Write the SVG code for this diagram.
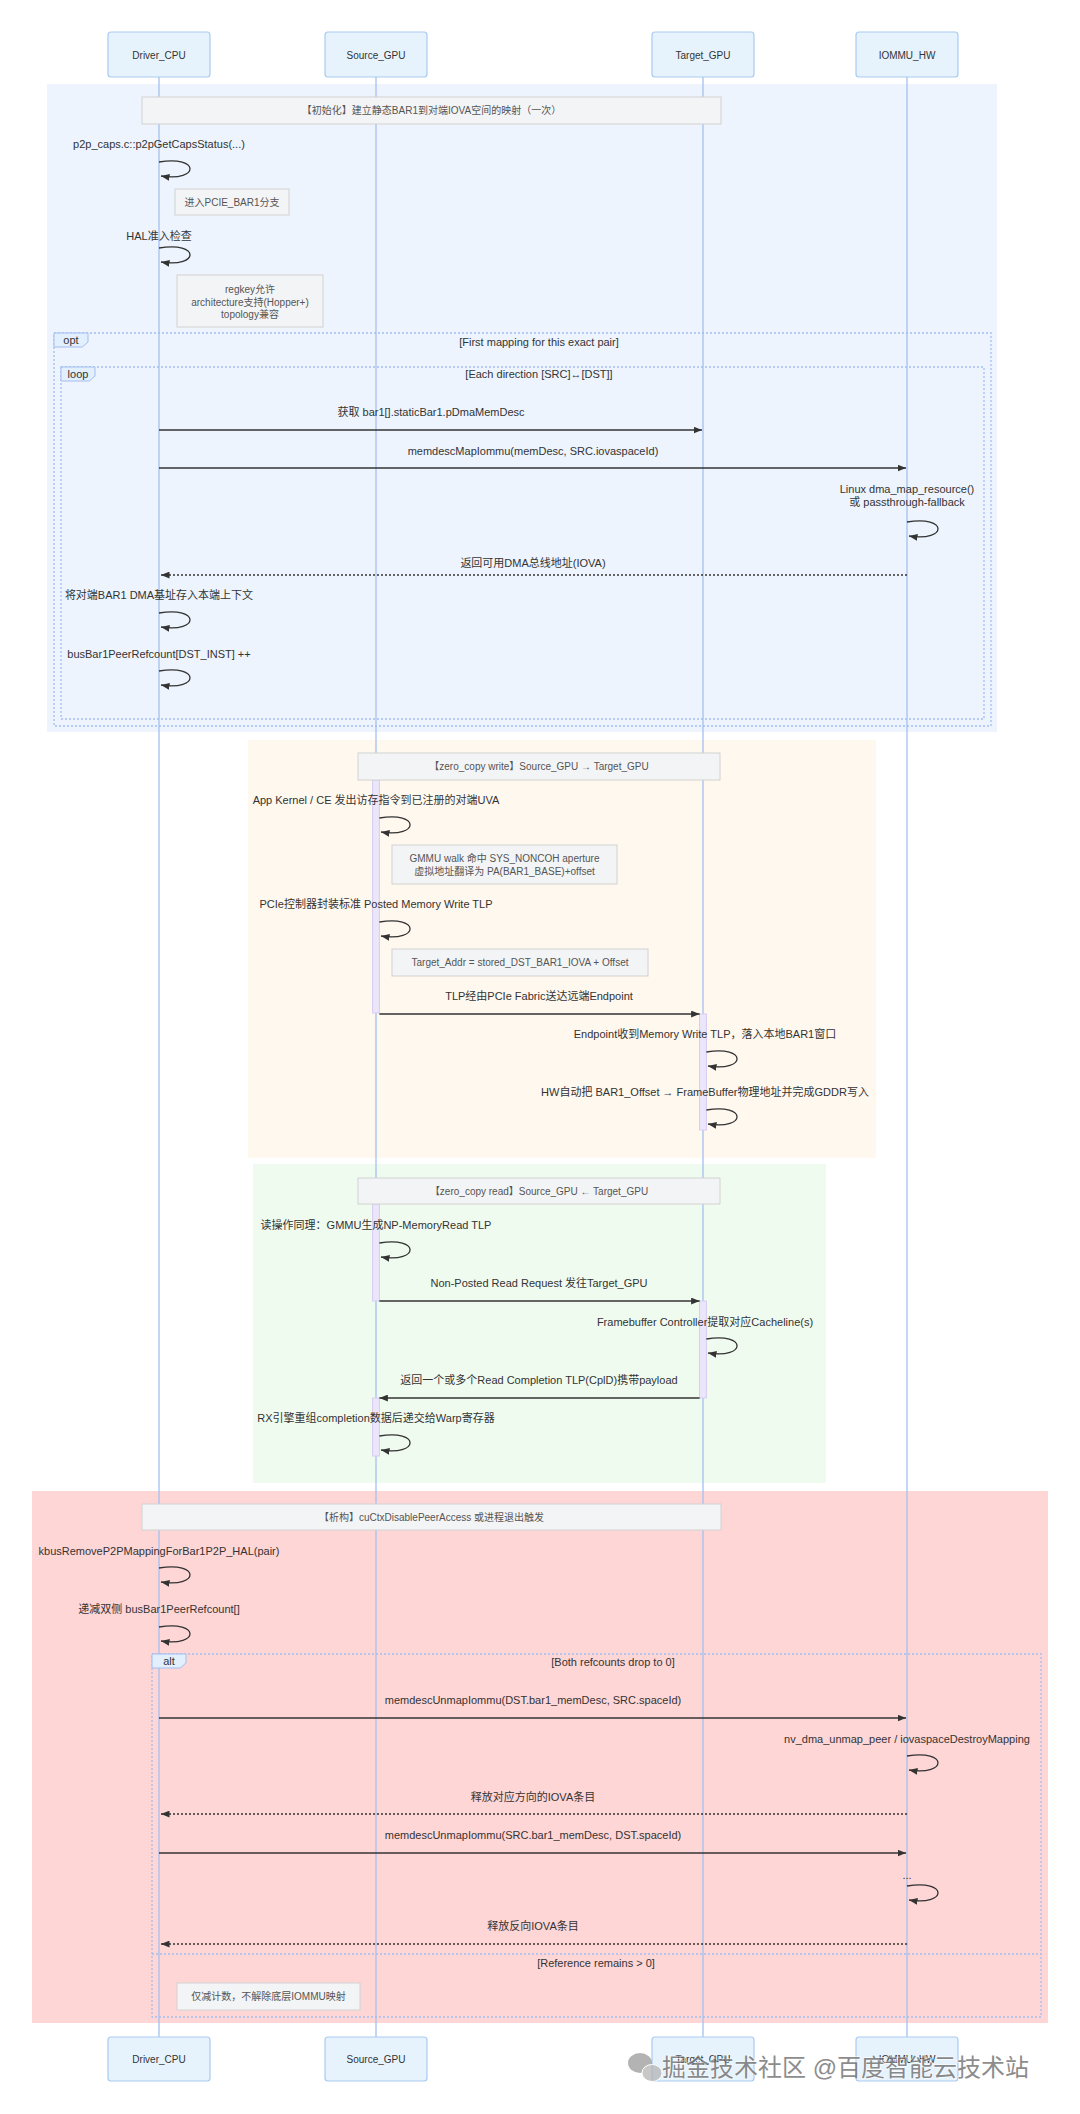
<svg xmlns="http://www.w3.org/2000/svg" width="1080" height="2114" viewBox="0 0 1080 2114">
<defs>
<marker id="ah" viewBox="0 0 10 8" refX="10" refY="4" markerWidth="8.5" markerHeight="7" orient="auto" markerUnits="userSpaceOnUse"><path d="M0,0 L10,4 L0,8 z" fill="#333"/></marker>
<style>
text{font-family:"Liberation Sans","Noto Sans CJK SC",sans-serif;}
.actor rect{fill:#e6f3fd;stroke:#a9cbf2;stroke-width:1.2;}
.actor text{font-size:10px;fill:#333;text-anchor:middle;}
.life{stroke:#a3c0f0;stroke-width:1.3;}
.note rect{fill:#f3f4f6;stroke:#d2d2d2;stroke-width:1;}
.note text{font-size:10px;fill:#555;text-anchor:middle;}
.msg{font-size:11px;fill:#333;text-anchor:middle;}
.line{stroke:#333;stroke-width:1.3;fill:none;}
.dash{stroke:#333;stroke-width:1.3;fill:none;stroke-dasharray:2,2;}
.loopp{stroke:#333;stroke-width:1.3;fill:none;}
.frame{fill:none;stroke:#a4bdf0;stroke-width:1.3;stroke-dasharray:2,2;}
.flabel{fill:#e2effc;stroke:#a4bdf0;stroke-width:1;}
.ftext{font-size:11px;fill:#333;text-anchor:middle;}
.act{fill:#ece6fb;stroke:#d6cdf3;stroke-width:1;}
</style>
</defs>
<rect width="1080" height="2114" fill="#ffffff"/>

<g id="backgrounds">
<rect x="47" y="84" width="950" height="648" fill="#edf4fe"/>
<rect x="248" y="740" width="628" height="418" fill="#fff8ef"/>
<rect x="253" y="1164" width="573" height="319" fill="#f0fbf0"/>
<rect x="32" y="1491" width="1016" height="532" fill="#ffd6d6"/>
</g>

<g id="lifelines">
<line class="life" x1="159" y1="77" x2="159" y2="2037"/>
<line class="life" x1="376" y1="77" x2="376" y2="2037"/>
<line class="life" x1="703" y1="77" x2="703" y2="2037"/>
<line class="life" x1="907" y1="77" x2="907" y2="2037"/>
</g>

<g id="activations">
<rect class="act" x="372.6" y="780" width="6.8" height="233"/>
<rect class="act" x="699.6" y="1014" width="6.8" height="116"/>
<rect class="act" x="372.6" y="1204" width="6.8" height="97"/>
<rect class="act" x="699.6" y="1301" width="6.8" height="97"/>
<rect class="act" x="372.6" y="1398" width="6.8" height="58"/>
</g>

<g id="actor-driver-top" class="actor"><rect x="108" y="32" width="102" height="45" rx="3"/><text x="159" y="58.5">Driver_CPU</text></g>
<g id="actor-source-top" class="actor"><rect x="325" y="32" width="102" height="45" rx="3"/><text x="376" y="58.5">Source_GPU</text></g>
<g id="actor-target-top" class="actor"><rect x="652" y="32" width="102" height="45" rx="3"/><text x="703" y="58.5">Target_GPU</text></g>
<g id="actor-iommu-top" class="actor"><rect x="856" y="32" width="102" height="45" rx="3"/><text x="907" y="58.5">IOMMU_HW</text></g>

<g id="actor-driver-bottom" class="actor"><rect x="108" y="2037" width="102" height="44" rx="3"/><text x="159" y="2063">Driver_CPU</text></g>
<g id="actor-source-bottom" class="actor"><rect x="325" y="2037" width="102" height="44" rx="3"/><text x="376" y="2063">Source_GPU</text></g>
<g id="actor-target-bottom" class="actor"><rect x="652" y="2037" width="102" height="44" rx="3"/><text x="703" y="2063">Target_GPU</text></g>
<g id="actor-iommu-bottom" class="actor"><rect x="856" y="2037" width="102" height="44" rx="3"/><text x="907" y="2063">IOMMU_HW</text></g>

<g id="note-init" class="note"><rect x="142" y="97" width="579" height="27"/><text x="431.5" y="114">【初始化】建立静态BAR1到对端IOVA空间的映射（一次）</text></g>
<g id="note-pcie" class="note"><rect x="175" y="189" width="114" height="26"/><text x="232" y="205.5">进入PCIE_BAR1分支</text></g>
<g id="note-checks" class="note"><rect x="177" y="275" width="146" height="52"/><text x="250" y="292.5">regkey允许</text><text x="250" y="305.5">architecture支持(Hopper+)</text><text x="250" y="318">topology兼容</text></g>

<g id="frame-opt">
<rect class="frame" x="54" y="333" width="937" height="393"/>
<polygon class="flabel" points="54,333 88,333 88,342 82.3,347 54,347"/>
<text class="ftext" x="71" y="344">opt</text>
<text class="ftext" x="539" y="345.5">[First mapping for this exact pair]</text>
</g>
<g id="frame-loop">
<rect class="frame" x="61" y="367" width="923" height="352"/>
<polygon class="flabel" points="61,367 95,367 95,376 89.3,381 61,381"/>
<text class="ftext" x="78" y="378">loop</text>
<text class="ftext" x="539" y="378">[Each direction [SRC]↔[DST]]</text>
</g>

<g id="note-zcw" class="note"><rect x="358" y="753" width="362" height="27"/><text x="539" y="770">【zero_copy write】Source_GPU → Target_GPU</text></g>
<g id="note-gmmu" class="note"><rect x="392" y="845" width="225" height="39"/><text x="504.5" y="861.5">GMMU walk 命中 SYS_NONCOH aperture</text><text x="504.5" y="874.5">虚拟地址翻译为 PA(BAR1_BASE)+offset</text></g>
<g id="note-addr" class="note"><rect x="392" y="949" width="256" height="27"/><text x="520" y="966">Target_Addr = stored_DST_BAR1_IOVA + Offset</text></g>

<g id="note-zcr" class="note"><rect x="358" y="1178" width="362" height="26"/><text x="539" y="1194.5">【zero_copy read】Source_GPU ← Target_GPU</text></g>

<g id="note-teardown" class="note"><rect x="142" y="1504" width="579" height="26"/><text x="431.5" y="1520.5">【析构】cuCtxDisablePeerAccess 或进程退出触发</text></g>

<g id="frame-alt">
<rect class="frame" x="152" y="1654" width="889" height="363"/>
<polygon class="flabel" points="152,1654 186,1654 186,1663 180.3,1668 152,1668"/>
<text class="ftext" x="169" y="1665">alt</text>
<text class="ftext" x="613" y="1666">[Both refcounts drop to 0]</text>
<line class="frame" x1="152" y1="1954" x2="1041" y2="1954"/>
<text class="ftext" x="596" y="1967">[Reference remains &gt; 0]</text>
</g>
<g id="note-refonly" class="note"><rect x="177" y="1983" width="183" height="27"/><text x="268.5" y="2000">仅减计数，不解除底层IOMMU映射</text></g>

<g id="connectors">
<text class="msg" x="159" y="148">p2p_caps.c::p2pGetCapsStatus(...)</text>
<path class="loopp" d="M159,162 C200,155 200,182 161,176" marker-end="url(#ah)"/>
<text class="msg" x="159" y="240">HAL准入检查</text>
<path class="loopp" d="M159,248 C200,241 200,268 161,262" marker-end="url(#ah)"/>

<text class="msg" x="431" y="416">获取 bar1[].staticBar1.pDmaMemDesc</text>
<line class="line" x1="159" y1="430" x2="702" y2="430" marker-end="url(#ah)"/>
<text class="msg" x="533" y="455">memdescMapIommu(memDesc, SRC.iovaspaceId)</text>
<line class="line" x1="159" y1="468" x2="906" y2="468" marker-end="url(#ah)"/>
<text class="msg" x="907" y="493">Linux dma_map_resource()</text>
<text class="msg" x="907" y="506">或 passthrough-fallback</text>
<path class="loopp" d="M907,522 C948,515 948,542 909,536" marker-end="url(#ah)"/>
<text class="msg" x="533" y="567">返回可用DMA总线地址(IOVA)</text>
<line class="dash" x1="907" y1="575" x2="161" y2="575" marker-end="url(#ah)"/>
<text class="msg" x="159" y="599">将对端BAR1 DMA基址存入本端上下文</text>
<path class="loopp" d="M159,613 C200,606 200,633 161,627" marker-end="url(#ah)"/>
<text class="msg" x="159" y="658">busBar1PeerRefcount[DST_INST] ++</text>
<path class="loopp" d="M159,671 C200,664 200,691 161,685" marker-end="url(#ah)"/>

<text class="msg" x="376" y="804">App Kernel / CE 发出访存指令到已注册的对端UVA</text>
<path class="loopp" d="M379.4,818 C420,811 420,838 381,832" marker-end="url(#ah)"/>
<text class="msg" x="376" y="908">PCIe控制器封装标准 Posted Memory Write TLP</text>
<path class="loopp" d="M379.4,922 C420,915 420,942 381,936" marker-end="url(#ah)"/>
<text class="msg" x="539" y="1000">TLP经由PCIe Fabric送达远端Endpoint</text>
<line class="line" x1="379.4" y1="1014" x2="699.6" y2="1014" marker-end="url(#ah)"/>
<text class="msg" x="705" y="1038">Endpoint收到Memory Write TLP，落入本地BAR1窗口</text>
<path class="loopp" d="M706.4,1052 C747,1045 747,1072 708,1066" marker-end="url(#ah)"/>
<text class="msg" x="705" y="1096">HW自动把 BAR1_Offset → FrameBuffer物理地址并完成GDDR写入</text>
<path class="loopp" d="M706.4,1110 C747,1103 747,1130 708,1124" marker-end="url(#ah)"/>

<text class="msg" x="376" y="1229">读操作同理：GMMU生成NP-MemoryRead TLP</text>
<path class="loopp" d="M379.4,1243 C420,1236 420,1263 381,1257" marker-end="url(#ah)"/>
<text class="msg" x="539" y="1287">Non-Posted Read Request 发往Target_GPU</text>
<line class="line" x1="379.4" y1="1301" x2="699.6" y2="1301" marker-end="url(#ah)"/>
<text class="msg" x="705" y="1326">Framebuffer Controller提取对应Cacheline(s)</text>
<path class="loopp" d="M706.4,1339 C747,1332 747,1359 708,1353" marker-end="url(#ah)"/>
<text class="msg" x="539" y="1384">返回一个或多个Read Completion TLP(CplD)携带payload</text>
<line class="line" x1="699.6" y1="1398" x2="379.4" y2="1398" marker-end="url(#ah)"/>
<text class="msg" x="376" y="1422">RX引擎重组completion数据后递交给Warp寄存器</text>
<path class="loopp" d="M379.4,1436 C420,1429 420,1456 381,1450" marker-end="url(#ah)"/>

<text class="msg" x="159" y="1555">kbusRemoveP2PMappingForBar1P2P_HAL(pair)</text>
<path class="loopp" d="M159,1568 C200,1561 200,1588 161,1582" marker-end="url(#ah)"/>
<text class="msg" x="159" y="1613">递减双侧 busBar1PeerRefcount[]</text>
<path class="loopp" d="M159,1627 C200,1620 200,1647 161,1641" marker-end="url(#ah)"/>
<text class="msg" x="533" y="1704">memdescUnmapIommu(DST.bar1_memDesc, SRC.spaceId)</text>
<line class="line" x1="159" y1="1718" x2="906" y2="1718" marker-end="url(#ah)"/>
<text class="msg" x="907" y="1743">nv_dma_unmap_peer / iovaspaceDestroyMapping</text>
<path class="loopp" d="M907,1756 C948,1749 948,1776 909,1770" marker-end="url(#ah)"/>
<text class="msg" x="533" y="1801">释放对应方向的IOVA条目</text>
<line class="dash" x1="907" y1="1814" x2="161" y2="1814" marker-end="url(#ah)"/>
<text class="msg" x="533" y="1839">memdescUnmapIommu(SRC.bar1_memDesc, DST.spaceId)</text>
<line class="line" x1="159" y1="1853" x2="906" y2="1853" marker-end="url(#ah)"/>
<text class="msg" x="907" y="1879">...</text>
<path class="loopp" d="M907,1886 C948,1879 948,1906 909,1900" marker-end="url(#ah)"/>
<text class="msg" x="533" y="1930">释放反向IOVA条目</text>
<line class="dash" x1="907" y1="1944" x2="161" y2="1944" marker-end="url(#ah)"/>
</g>

<g id="watermark" opacity="0.75">
<ellipse cx="640" cy="2063" rx="12" ry="10" fill="#9a9a9a"/>
<ellipse cx="652" cy="2073" rx="10" ry="8.5" fill="#b5b5b5" stroke="#fff" stroke-width="1"/>
<text x="662" y="2076" font-size="24" fill="#666" stroke="#fff" stroke-width="1.5" paint-order="stroke">掘金技术社区 @百度智能云技术站</text>
</g>
</svg>
